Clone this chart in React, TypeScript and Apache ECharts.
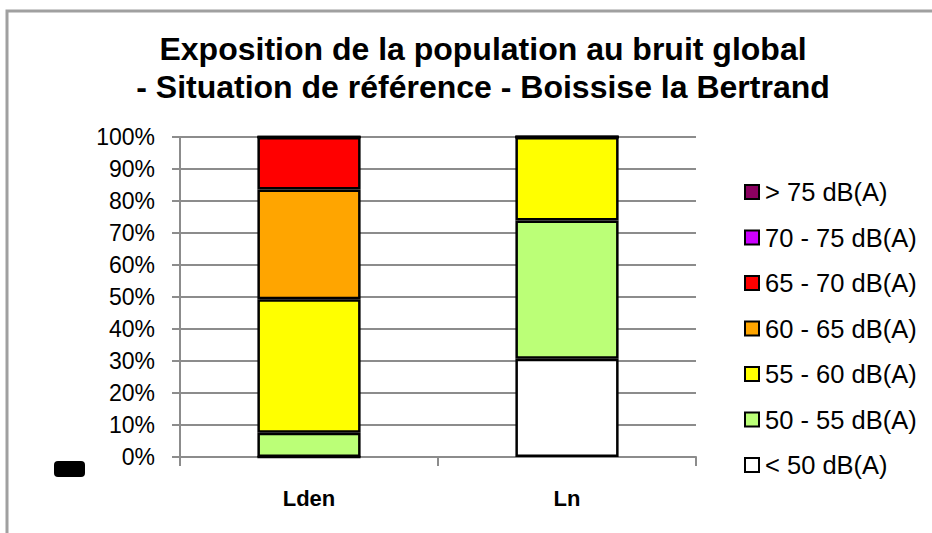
import React, { useEffect, useRef } from "react";
import * as echarts from "echarts";

const categories = ["Lden", "Ln"];
const bandNames = [
  "< 50 dB(A)",
  "50 - 55 dB(A)",
  "55 - 60 dB(A)",
  "60 - 65 dB(A)",
  "65 - 70 dB(A)",
  "70 - 75 dB(A)",
  "> 75 dB(A)",
];
const bandColors = ["#FFFFFF", "#BBFF77", "#FFFF00", "#FFA500", "#FF0000", "#CC00FF", "#8B0060"];
const lt50 = [0, 30.7];
const b50_55 = [7.6, 43.2];
const b55_60 = [41.7, 26.1];
const b60_65 = [34.3, 0];
const b65_70 = [16.4, 0];
const b70_75 = [0, 0];
const gt75 = [0, 0];
const bandValues = [lt50, b50_55, b55_60, b60_65, b65_70, b70_75, gt75];
const yTicks = { min: 0, max: 100, interval: 10 };

export default function App() {
  const ref = useRef<HTMLDivElement>(null);
  useEffect(() => {
    if (!ref.current) return;
    const chart = echarts.init(ref.current, undefined, { renderer: "svg" });
    const font = "Liberation Sans, Arial, sans-serif";
    chart.setOption({
      animation: false,
      backgroundColor: "#ffffff",
      title: {
        text: "Exposition de la population au bruit global\n- Situation de référence - Boissise la Bertrand",
        left: 478,
        textAlign: "center",
        top: 25,
        textStyle: { fontFamily: font, fontSize: 32, fontWeight: "bold", color: "#000", lineHeight: 38 },
      },
      graphic: [
        {
          type: "rect",
          shape: { x: 7, y: 11, width: 1000, height: 600 },
          style: { fill: "none", stroke: "#a0a0a0", lineWidth: 3 },
          silent: true,
        },
        {
          type: "rect",
          shape: { x: 54, y: 461, width: 31, height: 16, r: 4 },
          style: { fill: "#000" },
          silent: true,
        },
      ],
      legend: {
        orient: "vertical",
        left: 739,
        top: 173,
        itemWidth: 14,
        itemHeight: 14,
        itemGap: 17.5,
        icon: "rect",
        data: bandNames.slice().reverse(),
        textStyle: { fontFamily: font, fontSize: 25.5, color: "#000", lineHeight: 28, padding: [0, 0, 0, 1] },
      },
      grid: { left: 180, right: 236, top: 137, bottom: 76 },
      xAxis: {
        type: "category",
        data: categories,
        axisLine: { lineStyle: { color: "#8c8c8c", width: 2 } },
        axisTick: { show: true, length: 9, lineStyle: { color: "#8c8c8c", width: 2 } },
        axisLabel: { fontFamily: font, fontSize: 22, fontWeight: "bold", color: "#000", margin: 30 },
      },
      yAxis: {
        type: "value",
        min: yTicks.min,
        max: yTicks.max,
        interval: yTicks.interval,
        axisLine: { show: true, lineStyle: { color: "#8c8c8c", width: 2 } },
        axisTick: { show: true, length: 8, lineStyle: { color: "#8c8c8c", width: 2 } },
        splitLine: { lineStyle: { color: "#8c8c8c", width: 2 } },
        axisLabel: { fontFamily: font, fontSize: 23, color: "#000", margin: 25, formatter: "{value}%" },
      },
      series: bandNames.map((name, i) => ({
        name,
        type: "bar",
        stack: "total",
        barCategoryGap: "60%",
        data: bandValues[i],
        itemStyle: { color: bandColors[i], borderColor: "#000", borderWidth: 2.5 },
      })),
    });
    return () => chart.dispose();
  }, []);
  return <div ref={ref} style={{ position: "absolute", left: 0, top: 0, width: 932, height: 533 }} />;
}
